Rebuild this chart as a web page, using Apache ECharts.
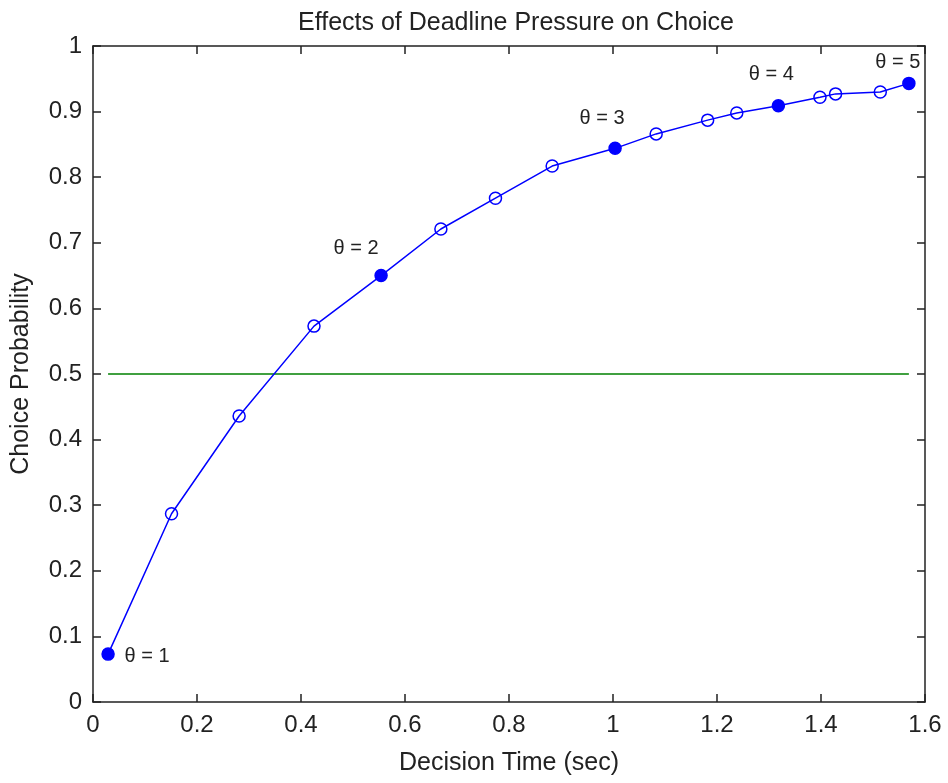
<html style="height: 100%">
	<head>
		<meta charset="utf-8">
	</head>
	<body style="height: 100%; width: 100%; margin: 0; background: #fff">
		<div id="container" style="height: 100%;width: 100%;"></div>
		<script type="text/javascript" src="https://cdn.jsdelivr.net/npm/echarts@6/dist/echarts.min.js"></script>
		<script type="text/javascript">
			// data
			var decisionTime = [0.029, 0.151, 0.281, 0.425, 0.554, 0.669, 0.774, 0.883, 1.004, 1.083,
				1.182, 1.238, 1.318, 1.398, 1.428, 1.514, 1.569];
			var choiceProb = [0.073, 0.287, 0.436, 0.573, 0.650, 0.721, 0.768, 0.817, 0.844, 0.866,
				0.887, 0.898, 0.909, 0.922, 0.927, 0.930, 0.943];
			var thetaIndex = [0, 4, 8, 12, 16];
			var thetaLabels = ['θ = 1', 'θ = 2', 'θ = 3', 'θ = 4', 'θ = 5'];
			var refLevel = 0.5;
			var xTicks = [0, 0.2, 0.4, 0.6, 0.8, 1, 1.2, 1.4, 1.6];
			var yTicks = [0, 0.1, 0.2, 0.3, 0.4, 0.5, 0.6, 0.7, 0.8, 0.9, 1];

			// label offsets (px) for the theta labels
			var labelOffsets = [[39, 2], [-25, -27], [-13, -30], [-7, -31], [-11, -21]];

			var dom = document.getElementById("container");
			var myChart = echarts.init(dom);
			var font = "'Liberation Sans', Arial, sans-serif";
			var txt = '#222';
			var blue = '#0000ff';

			var lineData = [];
			for (var i = 0; i < decisionTime.length; i++) {
				var k = thetaIndex.indexOf(i);
				if (k >= 0) {
					lineData.push({
						value: [decisionTime[i], choiceProb[i]],
						itemStyle: { color: blue },
						label: {
							show: true,
							position: 'inside',
							formatter: thetaLabels[k],
							offset: labelOffsets[k],
							color: txt,
							fontSize: 20,
							fontFamily: font
						}
					});
				} else {
					lineData.push([decisionTime[i], choiceProb[i]]);
				}
			}

			var n = decisionTime.length;
			var refData = [[decisionTime[0], refLevel], [decisionTime[n - 1], refLevel]];

			function fmt(v) {
				return String(+v.toFixed(1));
			}

			var axisLine = { show: true, onZero: false, lineStyle: { color: '#222', width: 1.5 } };
			var tick = { show: true, inside: true, length: 8, lineStyle: { color: '#222', width: 1.5 } };

			var option = {
				backgroundColor: '#fff',
				animation: false,
				title: {
					text: 'Effects of Deadline Pressure on Choice',
					left: 511,
					textAlign: 'center',
					top: 6,
					textStyle: { fontSize: 25, fontWeight: 'normal', color: txt, fontFamily: font }
				},
				grid: { left: 93, right: 23, top: 46, bottom: 81 },
				xAxis: [{
					type: 'value',
					min: xTicks[0],
					max: xTicks[xTicks.length - 1],
					interval: 0.2,
					position: 'bottom',
					name: 'Decision Time (sec)',
					nameLocation: 'middle',
					nameGap: 49,
					nameTextStyle: { fontSize: 25, color: txt, fontFamily: font },
					axisLine: axisLine,
					axisTick: tick,
					splitLine: { show: false },
					axisLabel: { fontSize: 24, color: txt, fontFamily: font, margin: 11, formatter: fmt }
				}, {
					type: 'value',
					min: xTicks[0],
					max: xTicks[xTicks.length - 1],
					interval: 0.2,
					position: 'top',
					axisLine: axisLine,
					axisTick: tick,
					splitLine: { show: false },
					axisLabel: { show: false }
				}],
				yAxis: [{
					type: 'value',
					min: yTicks[0],
					max: yTicks[yTicks.length - 1],
					interval: 0.1,
					position: 'left',
					name: 'Choice Probability',
					nameLocation: 'middle',
					nameGap: 59,
					nameRotate: 90,
					nameTextStyle: { fontSize: 25, color: txt, fontFamily: font },
					axisLine: axisLine,
					axisTick: tick,
					splitLine: { show: false },
					axisLabel: { fontSize: 24, color: txt, fontFamily: font, margin: 11, formatter: fmt }
				}, {
					type: 'value',
					min: yTicks[0],
					max: yTicks[yTicks.length - 1],
					interval: 0.1,
					position: 'right',
					axisLine: axisLine,
					axisTick: tick,
					splitLine: { show: false },
					axisLabel: { show: false }
				}],
				series: [{
					type: 'line',
					data: refData,
					symbol: 'none',
					lineStyle: { color: '#008000', width: 1.5 },
					z: 1
				}, {
					type: 'line',
					data: lineData,
					symbol: 'circle',
					symbolSize: 12,
					lineStyle: { color: blue, width: 1.5 },
					itemStyle: { color: 'rgba(0,0,0,0)', borderColor: blue, borderWidth: 1.5 },
					z: 3
				}]
			};

			myChart.setOption(option);
		</script>
	</body>
</html>
